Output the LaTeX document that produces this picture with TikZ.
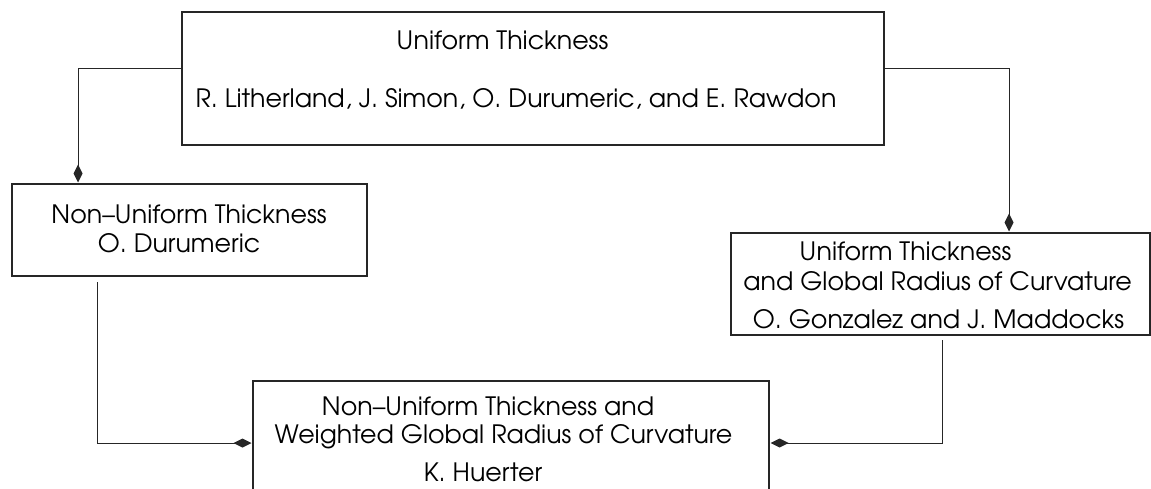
\documentclass[tikz,border=0pt]{standalone}
\usepackage{fontspec}
\setmainfont{TeX Gyre Adventor}
\usetikzlibrary{arrows.meta,calc}
\tikzstyle{block}=[draw=black!85,line width=1.1pt,inner sep=0pt,outer sep=0pt]
\tikzstyle{txt}=[anchor=base,inner sep=0pt,font=\fontsize{25.3}{30}\selectfont]
\tikzstyle{edge}=[draw=black!85,line width=1pt,shorten >=1.5pt,-{Diamond[length=18pt,width=9pt]}]

\begin{document}
\begin{tikzpicture}[x=1pt,y=-1pt]
    \clip (0,0) rectangle (1151,489);
    % First we draw the boxes
    \foreach \pos/\name/\w/\h in {{(533,78.5)/thick/702/133},{(189.5,230)/nonunif/355/92},
                                  {(940.5,284)/grc/419/102},{(511,443)/wgrc/516/124}}
        \node[block,minimum width=\w pt,minimum height=\h pt] (\name) at \pos {};

    % Then the texts inside them
    \node[txt] (thickA) at (502.5,50) {Uniform Thickness};
    \node[txt] (thickB) at (516,108) {R. Litherland, J. Simon, O. Durumeric, and E. Rawdon};
    \foreach \pos/\name/\txt in {{(189,223)/nonunifA/Non--Uniform Thickness},{(179,252)/nonunifB/O. Durumeric},
                                 {(905.5,260)/grcA/Uniform Thickness},{(937.5,290)/grcB/and Global Radius of Curvature},
                                 {(938.5,328)/grcC/O. Gonzalez and J. Maddocks},
                                 {(488,415)/wgrcA/Non--Uniform Thickness and},{(503.5,443)/wgrcB/Weighted Global Radius of Curvature},
                                 {(483,481)/wgrcC/K. Huerter}}
        \node[txt] (\name) at \pos {\txt};

    % Connect boxes with edges
    \path[edge] ([yshift=-57pt]thick.north west) -| ([xshift=66pt]nonunif.north west);
    \path[edge] ([yshift=-57pt]thick.north east) -| ([xshift=278pt]grc.north west);
    \path[edge,shorten <=6pt] ([xshift=85pt]nonunif.south west) |- (wgrc.west);
    \path[edge,shorten <=5pt] ([xshift=211pt]grc.south west) |- (wgrc.east);
\end{tikzpicture}
\end{document}
